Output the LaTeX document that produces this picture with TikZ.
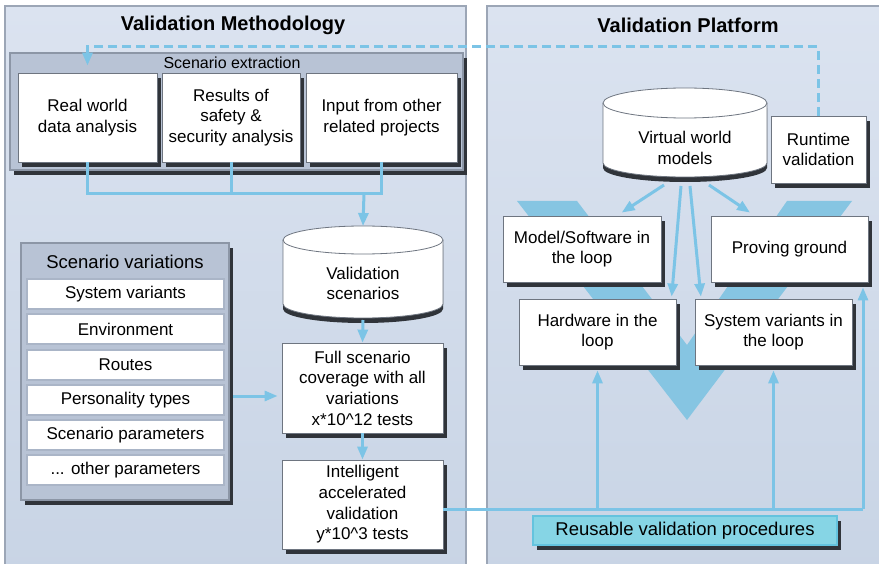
\documentclass[tikz,border=0pt]{standalone}
\usepackage{fontspec}
\setmainfont{Liberation Sans}
\usetikzlibrary{arrows.meta,calc}

\definecolor{panelTop}{RGB}{219,227,240}
\definecolor{panelBot}{RGB}{200,212,229}
\definecolor{panelLine}{RGB}{156,166,182}
\definecolor{groupFill}{RGB}{184,195,213}
\definecolor{groupLine}{RGB}{140,150,166}
\definecolor{shadowc}{RGB}{48,52,58}
\definecolor{boxLine}{RGB}{110,117,128}
\definecolor{itemLine}{RGB}{170,181,199}
\definecolor{flow}{RGB}{124,196,230}
\definecolor{vee}{RGB}{134,197,226}
\definecolor{reuse}{RGB}{134,213,229}
\definecolor{reuseLine}{RGB}{100,195,222}

\tikzset{
  dshadow/.style={preaction={draw=none,fill=shadowc,transform canvas={xshift=3.5pt,yshift=-5pt}}},
  panel/.style={draw=panelLine,line width=1.2pt,top color=panelTop,bottom color=panelBot},
  group/.style={draw=groupLine,line width=1.2pt,fill=groupFill,inner sep=0pt,dshadow},
  wbox/.style={draw=boxLine,line width=0.8pt,fill=white,align=center,inner sep=0pt,dshadow},
  item/.style={draw=itemLine,line width=1.8pt,fill=white,minimum width=197pt,minimum height=30pt,inner sep=0pt},
  drumline/.style={draw=boxLine,line width=0.8pt},
  flowline/.style={draw=flow,line width=3pt},
  flowarrow/.style={flowline,-{Triangle[length=13pt,width=10pt]}},
  title/.style={font=\fontsize{20}{24}\selectfont\bfseries},
}

\begin{document}
\begin{tikzpicture}[x=1pt,y=-1pt,font=\fontsize{17}{20.7}\selectfont]
\useasboundingbox (0,0) rectangle (879,564);

% two panels
\path[panel] (5,6) rectangle (466,575);
\path[panel] (487,6) rectangle (890,575);
\node[title] (tm) at (233,25) {Validation Methodology};
\node[title] (tp) at (688,25) {Validation Platform};

% V shape behind the loop boxes
\fill[vee] (517,201) -- (577,201) -- (687,345) -- (787,201) -- (852,201) -- (687,420) -- cycle;

% scenario extraction group
\node[group,minimum width=453pt,minimum height=117pt] (sx) at (236.5,111.5) {};
\node[font=\fontsize{16}{19}\selectfont] (sxl) at (232,63) {Scenario extraction};
\node[wbox,minimum width=139pt,minimum height=89pt] (rw) at (87.5,117.5) {Real world\\data analysis};
\node[wbox,minimum width=138pt,minimum height=89pt] (rs) at (231,117.5) {Results of\\safety \&\\security analysis};
\node[wbox,minimum width=151pt,minimum height=89pt] (ip) at (381.5,117.5) {Input from other\\related projects};

% scenario variations group
\node[group,minimum width=208pt,minimum height=257pt] (sv) at (125,371.5) {};
\node[font=\fontsize{18.5}{22}\selectfont] (svl) at (125,262) {Scenario variations};
\node[item] (v1) at (125.5,294) {System variants};
\node[item] (v2) at (125.5,329) {Environment};
\node[item] (v3) at (125.5,365) {Routes};
\node[item] (v4) at (125.5,400) {Personality types};
\node[item] (v5) at (125.5,435) {Scenario parameters};
\node[item] (v6) at (125.5,470) {... other parameters};

% validation scenarios drum
\fill[shadowc] (283,245) -- (283,309) arc[start angle=180,end angle=360,x radius=80pt,y radius=14pt] -- (443,245) -- cycle;
\path[drumline,fill=white] (283,240) -- (283,304) arc[start angle=180,end angle=360,x radius=80pt,y radius=14pt]
  -- (443,240) arc[start angle=0,end angle=180,x radius=80pt,y radius=14pt] -- cycle;
\draw[drumline] (283,240) arc[start angle=180,end angle=360,x radius=80pt,y radius=14pt];
\node[align=center] (vs) at (363,283.5) {Validation\\scenarios};
\coordinate (vstop) at (363,226);
\coordinate (vsbot) at (363,320);

\node[wbox,minimum width=161pt,minimum height=90pt] (fc) at (362.5,388) {Full scenario\\coverage with all\\variations\\x*10\string^12 tests};
\node[wbox,minimum width=161pt,minimum height=89pt] (ia) at (362.5,504.5) {Intelligent\\accelerated\\validation\\y*10\string^3 tests};

% virtual world models drum
\fill[shadowc] (603,108) -- (603,168) arc[start angle=180,end angle=360,x radius=82pt,y radius=14pt] -- (767,108) -- cycle;
\path[drumline,fill=white] (603,103) -- (603,163) arc[start angle=180,end angle=360,x radius=82pt,y radius=14pt]
  -- (767,103) arc[start angle=0,end angle=180,x radius=82pt,y radius=15pt] -- cycle;
\draw[drumline] (603,103) arc[start angle=180,end angle=360,x radius=82pt,y radius=15pt];
\node[align=center] (vw) at (685,148) {Virtual world\\models};
\coordinate (vwa) at (664,185);
\coordinate (vwb) at (681,186);
\coordinate (vwc) at (690,186);
\coordinate (vwd) at (709,185);

\node[wbox,minimum width=95pt,minimum height=67pt] (rt) at (818.5,149.5) {Runtime\\validation};

% loop boxes
\node[wbox,minimum width=158pt,minimum height=66pt] (ms) at (582,249) {Model/Software in\\the loop};
\node[wbox,minimum width=157pt,minimum height=66pt] (pg) at (789.5,249) {Proving ground};
\node[wbox,minimum width=157pt,minimum height=66pt] (hw) at (597.5,332) {Hardware in the\\loop};
\node[wbox,minimum width=157pt,minimum height=66pt] (sl) at (773.5,332) {System variants in\\the loop};

\node[draw=reuseLine,line width=1.5pt,fill=reuse,inner sep=0pt,dshadow,minimum width=304pt,minimum height=29pt,
      font=\fontsize{18.5}{22}\selectfont] (rp) at (685,530.5) {Reusable validation procedures};

% connectors of the methodology side
\draw[flowline] (rw.south) -- ++(0,31) -| (ip.south);
\draw[flowline] (rs.south) -- ++(0,31);
\coordinate (join) at (364,193);
\draw[flowarrow] (join) -- (vstop);
\draw[flowarrow] (vsbot) -- (fc.north);
\draw[flowarrow] (fc.south) -- (ia.north);
\draw[flowarrow,shorten >=4pt] ([xshift=3.5pt,yshift=-24.5pt]sv.east) -- ([yshift=-8pt]fc.west);

% feedback from runtime validation
\coordinate (loopy) at (0,47);
\draw[flow,line width=3pt,dash pattern=on 9pt off 5pt,-{Triangle[length=13pt,width=10pt]}]
  (rt.north) -- (rt.north |- loopy) -| ([yshift=7pt]rw.north);

% virtual world models feed the loops
\draw[flowarrow] (vwa) -- ($(ms.north west)!0.75!(ms.north east)+(0,-3)$);
\draw[flowarrow] (vwb) -- ($(hw.north west)!0.97!(hw.north east)+(0,-2)$);
\draw[flowarrow] (vwc) -- ($(sl.north west)!0.04!(sl.north east)+(0,-2)$);
\draw[flowarrow] (vwd) -- ($(pg.north west)!0.25!(pg.north east)+(0,-3)$);

% reusable procedures bus
\coordinate (busend) at (863,509);
\draw[flowline] ([yshift=-4.5pt]ia.east) -- (busend);
\draw[flowarrow,shorten >=5pt] (busend) -- (busend |- pg.south);
\draw[flowarrow,shorten >=5pt] (hw.south |- busend) -- (hw.south);
\draw[flowarrow,shorten >=5pt] (sl.south |- busend) -- (sl.south);
\end{tikzpicture}
\end{document}
